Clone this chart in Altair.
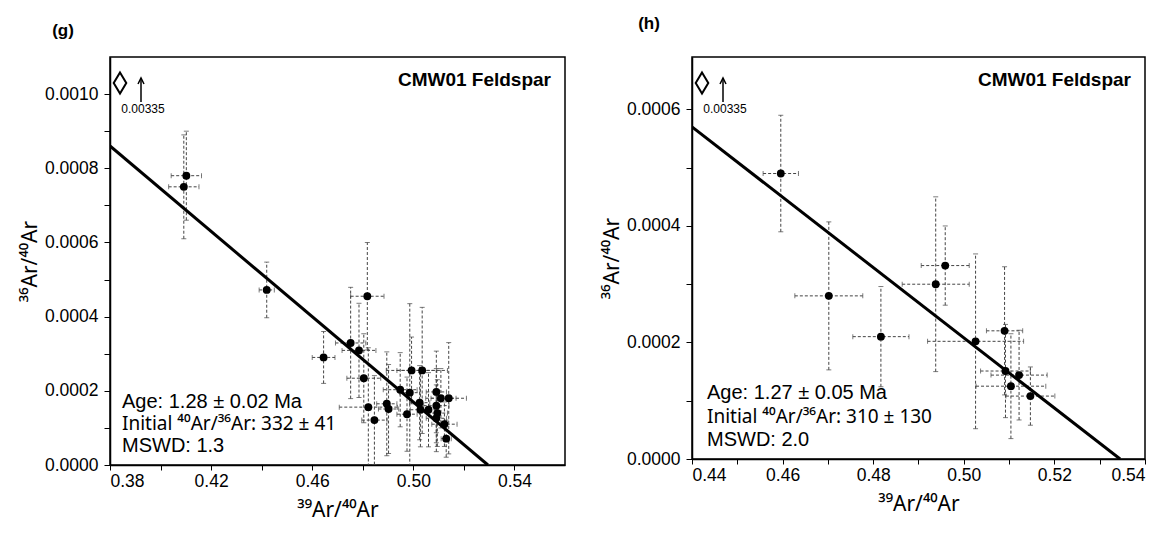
import altair as alt
import pandas as pd

FONT = "Liberation Sans"
SUPFONT = "Noto Sans"

# ---------------- panel (g) ----------------
g_x = [0.4102, 0.4092, 0.4420, 0.4645, 0.4752, 0.4785, 0.4818, 0.4804, 0.4822, 0.4846,
       0.4895, 0.4902, 0.4948, 0.4975, 0.4986, 0.4993, 0.5035, 0.5025, 0.5028, 0.5060,
       0.5091, 0.5091, 0.5095, 0.5091, 0.5109, 0.5140, 0.5123, 0.5130]
g_y = [0.00078, 0.00075, 0.000472, 0.00029, 0.000329, 0.000309, 0.000455, 0.000234, 0.000156, 0.000121,
       0.000165, 0.000151, 0.000203, 0.000137, 0.000195, 0.000255, 0.000255, 0.000168, 0.000149, 0.000149,
       0.000197, 0.00016, 0.00014, 0.000126, 0.00018, 0.00018, 0.00011, 0.000071]
g_xerr = [0.006, 0.006, 0.003, 0.0045, 0.006, 0.0067, 0.0066, 0.0067, 0.0115, 0.005,
          0.004, 0.004, 0.0067, 0.004, 0.004, 0.010, 0.010, 0.004, 0.004, 0.004,
          0.004, 0.005, 0.004, 0.004, 0.006, 0.007, 0.005, 0.002]
g_yerr = [0.00012, 0.00014, 0.000075, 0.00007, 0.00015, 0.000127, 0.000145, 0.00012, 0.00016, 0.00012,
          0.00014, 0.00012, 0.0001, 0.0001, 0.00024, 0.00009, 0.00017, 0.0001, 0.0001, 0.0001,
          0.00011, 0.0001, 0.00009, 0.00009, 0.00008, 0.00015, 0.00006, 0.00005]
g_line_x = [0.38, 0.5295]
g_line_y = [0.00086, 0.0]
g_xdomain = [0.38, 0.56]
g_ydomain = [0.0, 0.0011]
g_xticks = [0.38, 0.40, 0.42, 0.44, 0.46, 0.48, 0.50, 0.52, 0.54]
g_yticks = [0.0, 0.0001, 0.0002, 0.0003, 0.0004, 0.0005, 0.0006, 0.0007, 0.0008, 0.0009, 0.0010]
g_label = "(g)"
g_stats = ["Age: 1.28 ± 0.02 Ma", "Initial ⁴⁰Ar/³⁶Ar: 332 ± 41", "MSWD: 1.3"]

# ---------------- panel (h) ----------------
h_x = [0.4596, 0.4702, 0.4817, 0.4938, 0.4959, 0.5026, 0.5090, 0.5092, 0.5122, 0.5104, 0.5147]
h_y = [0.00049, 0.00028, 0.00021, 0.00030, 0.000332, 0.000202, 0.00022, 0.000151, 0.000144, 0.000125, 0.000108]
h_xerr = [0.0039, 0.0075, 0.0062, 0.0074, 0.0053, 0.0106, 0.004, 0.0055, 0.0062, 0.0077, 0.0054]
h_yerr = [0.0001, 0.000127, 0.000086, 0.00015, 0.000068, 0.00015, 0.00011, 0.00008, 0.000077, 0.00009, 0.00005]
h_line_x = [0.44, 0.5345]
h_line_y = [0.00057, 0.0]
h_xdomain = [0.44, 0.54]
h_ydomain = [0.0, 0.00069]
h_xticks = [0.44, 0.45, 0.46, 0.47, 0.48, 0.49, 0.50, 0.51, 0.52, 0.53, 0.54]
h_yticks = [0.0, 0.0001, 0.0002, 0.0003, 0.0004, 0.0005, 0.0006]
h_label = "(h)"
h_stats = ["Age: 1.27 ± 0.05 Ma", "Initial ⁴⁰Ar/³⁶Ar: 310 ± 130", "MSWD: 2.0"]

sample_name = "CMW01 Feldspar"
offscale_value = "0.00335"
x_title = "³⁹Ar/⁴⁰Ar"
y_title = "³⁶Ar/⁴⁰Ar"


def text_layer(s, font, size, x, y, align="left", weight="normal"):
    return alt.Chart(pd.DataFrame({"t": [s]})).mark_text(
        font=font, fontSize=size, fontWeight=weight, align=align, baseline="middle", color="black").encode(
        text="t:N", x=alt.value(x), y=alt.value(y))


def panel(xs, ys, xerr, yerr, lx, ly, xdom, ydom, xticks, yticks, xlabexpr,
          label, stats, width, height, label_dx, label_dy, stats_y, stats_lh, stats_x):
    df = pd.DataFrame({"x": xs, "y": ys})
    df["xlo"] = [a - e for a, e in zip(xs, xerr)]
    df["xhi"] = [a + e for a, e in zip(xs, xerr)]
    df["ylo"] = [a - e for a, e in zip(ys, yerr)]
    df["yhi"] = [a + e for a, e in zip(ys, yerr)]
    vcaps = pd.DataFrame({"cx": list(df["xlo"]) + list(df["xhi"]), "cy": list(ys) + list(ys)})
    hcaps = pd.DataFrame({"cx": list(xs) + list(xs), "cy": list(df["ylo"]) + list(df["yhi"])})
    line = pd.DataFrame({"x": lx, "y": ly})

    xscale = alt.Scale(domain=xdom, nice=False, zero=False)
    yscale = alt.Scale(domain=ydom, nice=False, zero=True)
    xaxis = alt.Axis(values=xticks, labelExpr=xlabexpr, title=x_title, grid=False)
    yaxis = alt.Axis(values=yticks,
                     labelExpr="round(datum.value*10000) % 2 == 0 ? format(datum.value, '.4f') : ''",
                     title=y_title, grid=False)

    def X(f):
        return alt.X(f, type="quantitative", scale=xscale, axis=xaxis)

    def Y(f):
        return alt.Y(f, type="quantitative", scale=yscale, axis=yaxis)

    bar_style = dict(color="#444444", strokeWidth=1, strokeDash=[3, 2], clip=True)
    xbars = alt.Chart(df).mark_rule(**bar_style).encode(x=X("xlo"), x2="xhi", y=Y("y"))
    ybars = alt.Chart(df).mark_rule(**bar_style).encode(x=X("x"), y=Y("ylo"), y2="yhi")
    vcap = alt.Chart(vcaps).mark_tick(orient="vertical", size=5, thickness=1, color="#444444", clip=True).encode(
        x=X("cx"), y=Y("cy"))
    hcap = alt.Chart(hcaps).mark_tick(orient="horizontal", size=5, thickness=1, color="#444444", clip=True).encode(
        x=X("cx"), y=Y("cy"))
    fit = alt.Chart(line).mark_line(color="black", strokeWidth=3, clip=True).encode(x=X("x"), y=Y("y"))
    pts = alt.Chart(df).mark_circle(size=62, color="black", opacity=1).encode(x=X("x"), y=Y("y"))

    lab = text_layer(label, FONT, 17, label_dx, label_dy, align="center", weight="bold")
    name = text_layer(sample_name, FONT, 19, width - 14, 23, align="right", weight="bold")
    st1 = text_layer(stats[0], FONT, 20, stats_x, stats_y)
    st2 = text_layer(stats[1], SUPFONT, 19, stats_x, stats_y + stats_lh)
    st3 = text_layer(stats[2], FONT, 20, stats_x, stats_y + 2 * stats_lh)
    diamond = alt.Chart(pd.DataFrame({"t": [0]})).mark_point(
        shape="M0,-1L0.6,0L0,1L-0.6,0Z", size=440, filled=False, color="black", strokeWidth=2,
        opacity=1).encode(x=alt.value(10), y=alt.value(26))
    arrow_shaft = alt.Chart(pd.DataFrame({"t": [0]})).mark_rule(color="black", strokeWidth=1.5).encode(
        x=alt.value(31), y=alt.value(21), y2=alt.value(45))
    arrow_head = alt.Chart(pd.DataFrame({"t": [0]})).mark_point(
        shape="M-1,1L0,-1L1,1", size=36, filled=False, color="black", strokeWidth=1.5, opacity=1).encode(
        x=alt.value(31), y=alt.value(24))
    off = text_layer(offscale_value, FONT, 12, 33, 52, align="center")

    return alt.layer(xbars, ybars, vcap, hcap, fit, pts, lab, name, st1, st2, st3, diamond,
                     arrow_shaft, arrow_head, off).properties(width=width, height=height)


left = panel(g_x, g_y, g_xerr, g_yerr, g_line_x, g_line_y, g_xdomain, g_ydomain, g_xticks, g_yticks,
             "round(datum.value*100) % 4 == 2 ? format(datum.value, '.2f') : ''",
             g_label, g_stats, 455, 408, -47, -26, 345, 22, 12)
right = panel(h_x, h_y, h_xerr, h_yerr, h_line_x, h_line_y, h_xdomain, h_ydomain, h_xticks, h_yticks,
              "round(datum.value*100) % 2 == 0 ? format(datum.value, '.2f') : ''",
              h_label, h_stats, 453, 402, -43, -33, 336, 23.5, 15)

chart = alt.hconcat(left, right, spacing=34).properties(
    padding={"left": 10, "top": 6, "right": 0, "bottom": 0}
).configure_view(stroke="black", strokeWidth=1.5).configure_axis(
    domainColor="black", domainWidth=1.5, tickColor="black", tickWidth=1,
    labelFont=FONT, labelFontSize=17.5, labelColor="black",
    titleFont=SUPFONT, titleFontSize=21, titleFontWeight="normal", titleColor="black"
).configure_axisY(titlePadding=4, tickSize=6, labelPadding=6).configure_axisX(
    titlePadding=10, tickSize=5, labelPadding=2)

chart.save("out.html", embed_options={"renderer": "svg", "actions": False})
